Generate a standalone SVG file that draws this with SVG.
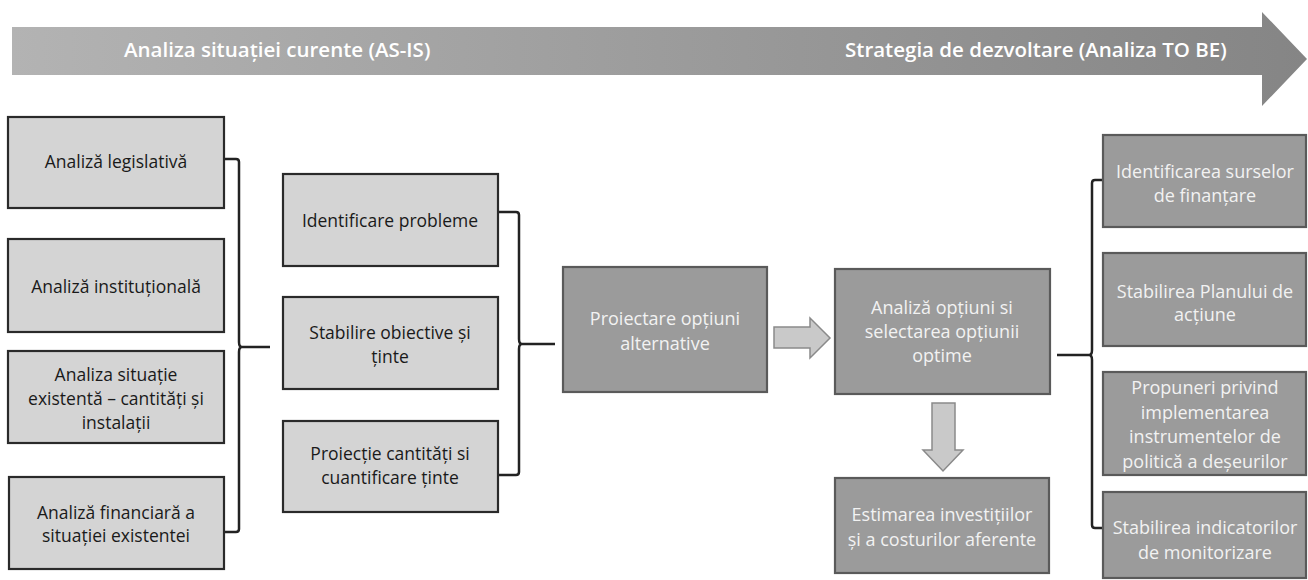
<svg xmlns="http://www.w3.org/2000/svg" width="1308" height="580" viewBox="0 0 1308 580">
<style>
.lb{fill:#d4d4d4;stroke:#2a2a2a;stroke-width:2.2}
.db{fill:#9b9b9b;stroke:#5a5a5a;stroke-width:2.2}
.lt{font-family:"Open Sans","Noto Sans",sans-serif;font-size:17.5px;fill:#1a1a1a;text-anchor:middle}
.dt{font-family:"Open Sans","Noto Sans",sans-serif;font-size:18px;fill:#f2f2f2;text-anchor:middle}
.ht{font-family:"Open Sans","Noto Sans",sans-serif;font-size:20.5px;font-weight:600;fill:#ffffff}
.br{fill:none;stroke:#222;stroke-width:2.5;stroke-linejoin:round}
.ba{fill:#c9c9c9;stroke:#8a8a8a;stroke-width:1.5}
</style>
<defs>
<linearGradient id="g" x1="0" y1="0" x2="1" y2="0">
<stop offset="0" stop-color="#b3b3b3"/>
<stop offset="1" stop-color="#858585"/>
</linearGradient>
</defs>
<g id="timeline">
<polygon points="12,27 1262,27 1262,12 1307,59 1262,106 1262,75 12,75" fill="url(#g)"/>
<text class="ht" x="124" y="57">Analiza situației curente (AS-IS)</text>
<text class="ht" x="845" y="57">Strategia de dezvoltare (Analiza TO BE)</text>
</g>
<g id="connectors">
<path class="br" d="M224,159 H236 Q239,159 239,162 V342 Q239,347 242,347 H270 M242,347 Q239,347 239,352 V529 Q239,532 236,532 H224"/>
<path class="br" d="M498,212 H516 Q519,212 519,215 V339 Q519,344 522,344 H555 M522,344 Q519,344 519,349 V472 Q519,475 516,475 H498"/>
<path class="br" d="M1103,180 H1095 Q1092,180 1092,183 V350 Q1092,355 1089,355 H1057 M1089,355 Q1092,355 1092,360 V525 Q1092,528 1095,528 H1103"/>
<polygon class="ba" points="774,327 810,327 810,318 830,338 810,358 810,348 774,348"/>
<polygon class="ba" points="932,403 955,403 955,450 963,450 943,471 923,450 932,450"/>
</g>
<g id="n1"><rect class="lb" x="8" y="117" width="216" height="91"/><text class="lt" x="116" y="168">Analiză legislativă</text></g>
<g id="n2"><rect class="lb" x="8" y="239" width="216" height="93"/><text class="lt" x="116" y="293">Analiză instituțională</text></g>
<g id="n3"><rect class="lb" x="8" y="351" width="216" height="92"/><text class="lt" x="116" y="381">Analiza situație</text><text class="lt" x="116" y="405">existentă – cantități și</text><text class="lt" x="116" y="429">instalații</text></g>
<g id="n4"><rect class="lb" x="9" y="477" width="215" height="92"/><text class="lt" x="116" y="519">Analiză financiară a</text><text class="lt" x="116" y="542">situației existentei</text></g>
<g id="n5"><rect class="lb" x="283" y="174" width="215" height="92"/><text class="lt" x="390" y="227">Identificare probleme</text></g>
<g id="n6"><rect class="lb" x="283" y="297" width="215" height="92"/><text class="lt" x="390" y="339">Stabilire obiective și</text><text class="lt" x="390" y="363">ținte</text></g>
<g id="n7"><rect class="lb" x="283" y="421" width="215" height="91"/><text class="lt" x="390" y="460">Proiecție cantități si</text><text class="lt" x="390" y="484">cuantificare ținte</text></g>
<g id="n8"><rect class="db" x="563" y="267" width="204" height="125"/><text class="dt" x="665" y="325">Proiectare opțiuni</text><text class="dt" x="665" y="350">alternative</text></g>
<g id="n9"><rect class="db" x="835" y="269" width="215" height="125"/><text class="dt" x="942" y="314">Analiză opțiuni si</text><text class="dt" x="942" y="338">selectarea opțiunii</text><text class="dt" x="942" y="362">optime</text></g>
<g id="n10"><rect class="db" x="835" y="478" width="214" height="95"/><text class="dt" x="942" y="521">Estimarea investițiilor</text><text class="dt" x="942" y="546">și a costurilor aferente</text></g>
<g id="n11"><rect class="db" x="1103" y="135" width="203" height="92"/><text class="dt" x="1205" y="178">Identificarea surselor</text><text class="dt" x="1205" y="202">de finanțare</text></g>
<g id="n12"><rect class="db" x="1103" y="253" width="203" height="93"/><text class="dt" x="1205" y="298">Stabilirea Planului de</text><text class="dt" x="1205" y="321">acțiune</text></g>
<g id="n13"><rect class="db" x="1103" y="372" width="203" height="103"/><text class="dt" x="1205" y="394">Propuneri privind</text><text class="dt" x="1205" y="419">implementarea</text><text class="dt" x="1205" y="443">instrumentelor de</text><text class="dt" x="1205" y="468">politică a deșeurilor</text></g>
<g id="n14"><rect class="db" x="1103" y="492" width="203" height="86"/><text class="dt" x="1205" y="534">Stabilirea indicatorilor</text><text class="dt" x="1205" y="559">de monitorizare</text></g>
</svg>
